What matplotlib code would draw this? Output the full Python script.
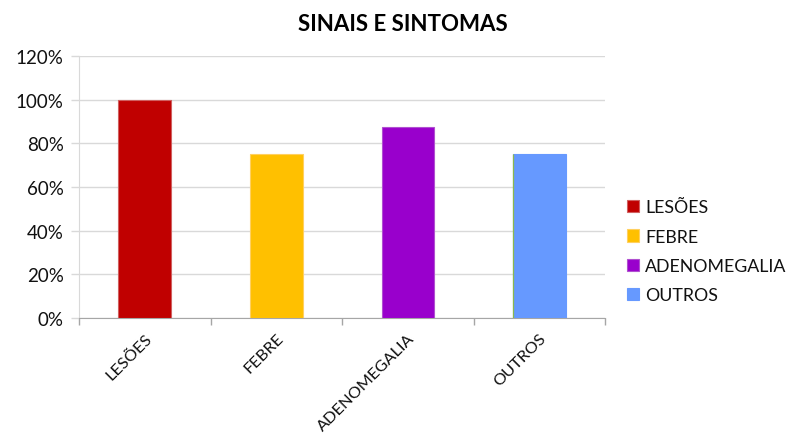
import matplotlib
matplotlib.use("Agg")
import matplotlib.pyplot as plt
from matplotlib.ticker import PercentFormatter, FixedLocator, MultipleLocator
import numpy as np

categories = ["LESÕES", "FEBRE", "ADENOMEGALIA", "OUTROS"]
values = [100, 75, 87.5, 75]
colors = ["#C00000", "#FFC000", "#9900CC", "#6699FF"]
edge_colors = ["#D06060", "#FFD060", "#B050D0", "#6699FF"]
title = "SINAIS E SINTOMAS"

plt.rcParams["font.family"] = ["Lato", "DejaVu Sans"]

fig = plt.figure(figsize=(7.96, 4.39), dpi=100)
ax = fig.add_axes([0.0992, 0.273, 0.661, 0.597])

x = np.arange(len(categories))
for xi, v, c, ec, lab in zip(x, values, colors, edge_colors, categories):
    ax.bar(xi, v, width=0.4, color=c, edgecolor=ec, linewidth=0.8, label=lab, zorder=3)
# thin accent on the left side of the last bar
ax.vlines(x[-1] - 0.2, 0, values[-1], color="#8CB84E", linewidth=0.9, zorder=4)

ax.set_xlim(-0.5, len(categories) - 0.5)
ax.set_ylim(0, 120)
ax.yaxis.set_major_locator(MultipleLocator(20))
ax.yaxis.set_major_formatter(PercentFormatter(decimals=0))
ax.grid(axis="y", color="#D9D9D9", linewidth=1.0, zorder=0)

ax.set_xticks(x)
ax.set_xticklabels(categories, rotation=45, ha="right", rotation_mode="anchor",
                   fontsize=11.8, color="#111111")
ax.tick_params(axis="x", length=0, pad=9)
ax.xaxis.set_minor_locator(FixedLocator(np.arange(-0.5, len(categories), 1.0)))
ax.tick_params(axis="x", which="minor", length=5, color="#A6A6A6", width=1)
ax.tick_params(axis="y", length=6, color="#D9D9D9", width=1, labelsize=13.5,
               labelcolor="#111111", pad=5)

for side in ["top", "right"]:
    ax.spines[side].set_visible(False)
ax.spines["left"].set_color("#D9D9D9")
ax.spines["bottom"].set_color("#A6A6A6")

fig.text(0.506, 0.945, title, ha="center", va="center", fontsize=16,
         fontweight="bold", color="#000000")

leg = fig.legend(loc="center left", bbox_to_anchor=(0.772, 0.425), frameon=False,
                 fontsize=12.8, handlelength=0.68, handleheight=0.68,
                 handletextpad=0.35, labelspacing=0.75, borderpad=0.2)
for t in leg.get_texts():
    t.set_color("#111111")

fig.savefig("out.png", dpi=100)
